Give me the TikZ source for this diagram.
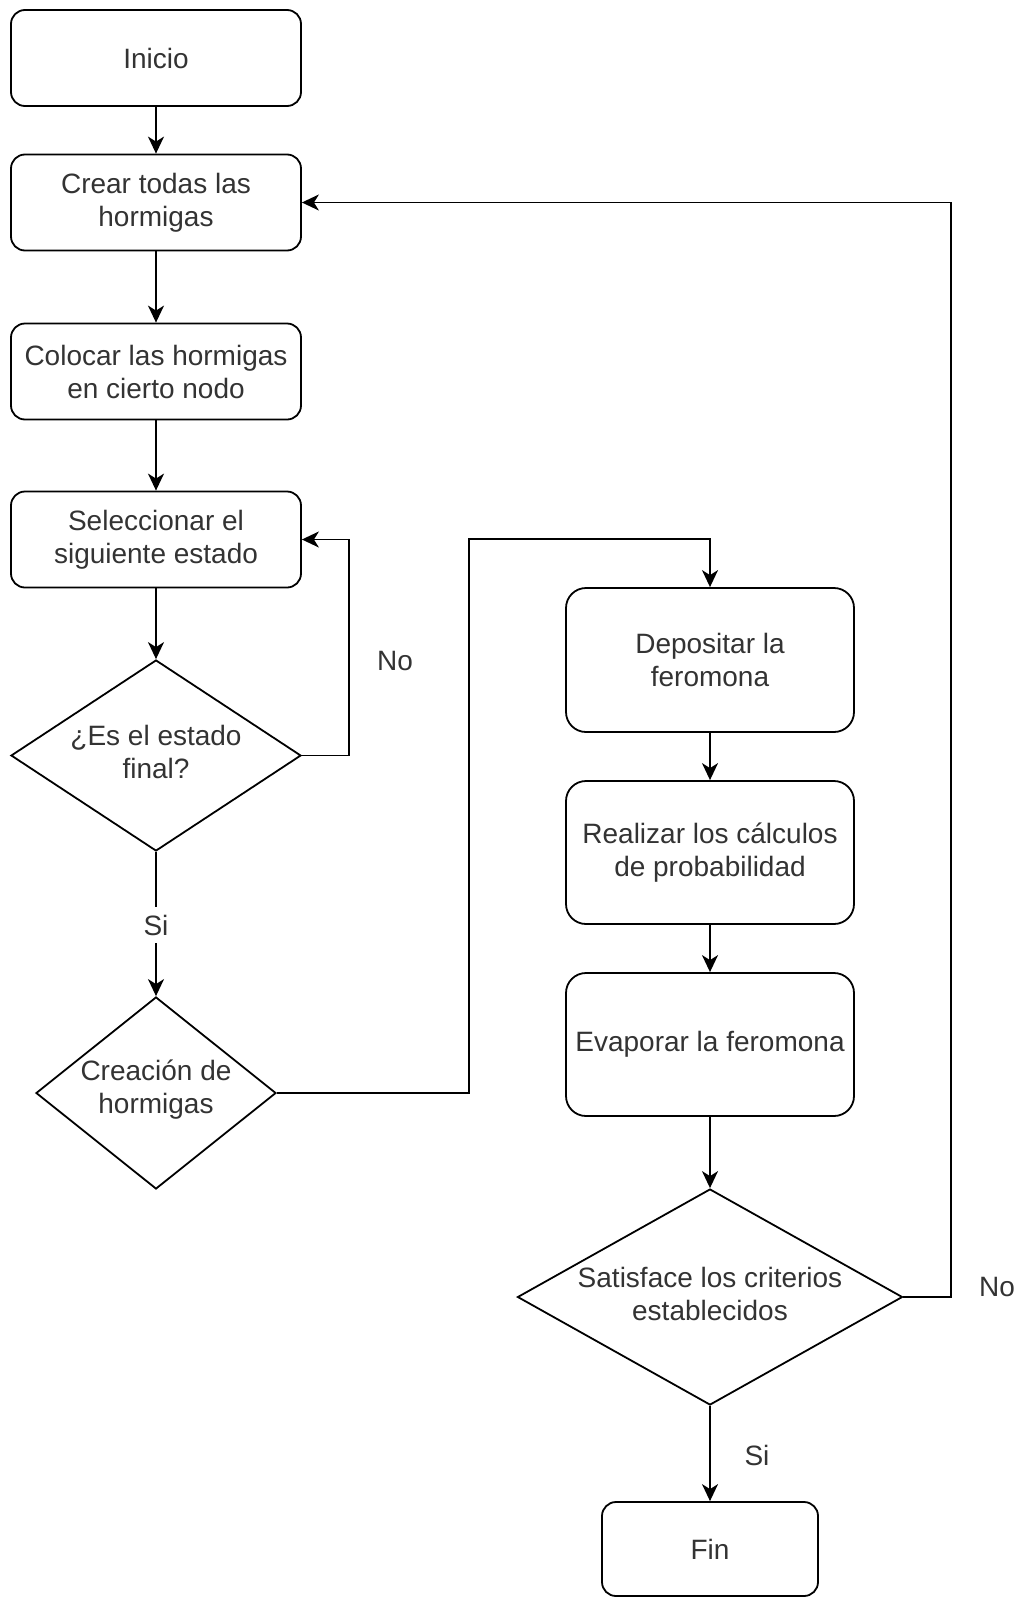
\documentclass[tikz,border=0pt]{standalone}
\usepackage{fontspec}
\setmainfont{Liberation Sans}
\usetikzlibrary{arrows.meta,shapes.geometric}
\definecolor{txtc}{HTML}{333333}
\begin{document}
\begin{tikzpicture}[x=1pt,y=-1pt,
  every node/.style={font=\fontsize{28}{33}\selectfont, text=txtc, align=center},
  box/.style={draw=black, line width=1.8pt, rounded corners=14pt, minimum width=290pt, minimum height=96pt, inner sep=0pt},
  tallbox/.style={box, rounded corners=20pt, minimum width=288pt, minimum height=143pt},
  dia/.style={draw=black, line width=1.8pt, diamond, inner sep=0pt},
  arr/.style={draw=black, line width=1.8pt, -{Stealth[length=17pt,width=16pt,inset=5pt]}},
  lbl/.style={fill=white, inner xsep=2pt, inner ysep=8pt}
]
\useasboundingbox (0,0) rectangle (1020,1598);
% left column
\node[box] (inicio) at (156,58) {Inicio};
\node[box] (crear) at (156,202.5) {Crear todas las\\hormigas};
\node[box] (colocar) at (156,371.5) {Colocar las hormigas\\en cierto nodo};
\node[box] (selec) at (156,539.5) {Seleccionar el\\siguiente estado};
\node[dia, minimum width=290pt, minimum height=191pt] (d1) at (156,755.5) {};
\node (d1t) at (156,752) {¿Es el estado\\final?};
\node[dia, minimum width=240pt, minimum height=192pt] (d2) at (156,1093) {};
\node (d2t) at (156,1090) {Creación de\\hormigas};
% right column
\node[tallbox, minimum height=144pt] (dep) at (710,660) {Depositar la\\feromona};
\node[tallbox] (real) at (710,852.5) {Realizar los cálculos\\de probabilidad};
\node[tallbox] (evap) at (710,1044.5) {Evaporar la feromona};
\node[dia, minimum width=385pt, minimum height=216pt] (d3) at (710,1297) {};
\node (d3t) at (710,1294) {Satisface los criterios\\establecidos};
\node[box, minimum width=216pt, minimum height=94pt] (fin) at (710,1549) {Fin};
% labels
\node (no1) at (395,661) {No};
\node (no2) at (997,1287) {No};
\node (si2) at (757,1455) {Si};
% bend points
\coordinate (c1) at (349,755.5);
\coordinate (c2) at (469,539);
\coordinate (c3) at (951,202.5);
% connectors
\draw[arr] (inicio) -- (crear);
\draw[arr] (crear) -- (colocar);
\draw[arr] (colocar) -- (selec);
\draw[arr] (selec) -- (d1);
\draw[arr] (d1.east) -- (c1) |- (selec.east);
\draw[arr] (d1) -- node[lbl, pos=0.507] (si1) {Si} (d2);
\draw[arr] (d2.east) -| (c2) -| (dep.north);
\draw[arr] (dep) -- (real);
\draw[arr] (real) -- (evap);
\draw[arr] (evap) -- (d3);
\draw[arr] (d3.east) -| (c3) -- (crear.east);
\draw[arr] (d3) -- (fin);
\end{tikzpicture}
\end{document}
